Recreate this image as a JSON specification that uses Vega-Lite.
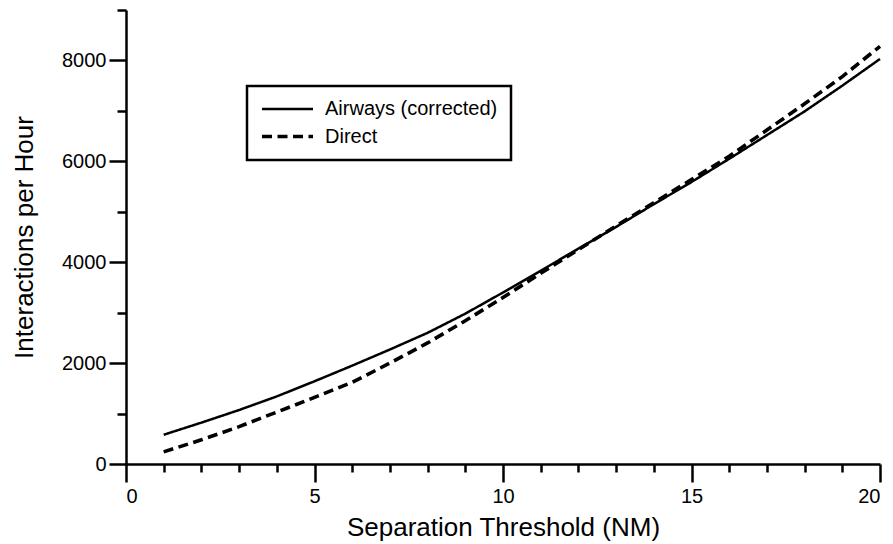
{
  "$schema": "https://vega.github.io/schema/vega-lite/v6.json",
  "width": 754,
  "height": 454,
  "autosize": "none",
  "padding": {"left": 126, "top": 10, "right": 13, "bottom": 80},
  "background": "white",
  "config": {
    "view": {"stroke": null},
    "font": "Liberation Sans",
    "axis": {"grid": false, "domainColor": "black", "tickColor": "black", "labelColor": "black", "titleColor": "black", "domainWidth": 2.5, "tickWidth": 2.5, "labelFont": "Liberation Sans", "titleFont": "Liberation Sans", "labelFontSize": 20, "titleFontSize": 26, "titleFontWeight": "normal"}
  },
  "data": {
    "values": [
      {"x": 1, "y": 580, "s": "Airways (corrected)"},
      {"x": 2, "y": 820, "s": "Airways (corrected)"},
      {"x": 3, "y": 1070, "s": "Airways (corrected)"},
      {"x": 4, "y": 1340, "s": "Airways (corrected)"},
      {"x": 5, "y": 1640, "s": "Airways (corrected)"},
      {"x": 6, "y": 1950, "s": "Airways (corrected)"},
      {"x": 7, "y": 2270, "s": "Airways (corrected)"},
      {"x": 8, "y": 2600, "s": "Airways (corrected)"},
      {"x": 9, "y": 2980, "s": "Airways (corrected)"},
      {"x": 10, "y": 3400, "s": "Airways (corrected)"},
      {"x": 11, "y": 3830, "s": "Airways (corrected)"},
      {"x": 12, "y": 4270, "s": "Airways (corrected)"},
      {"x": 13, "y": 4700, "s": "Airways (corrected)"},
      {"x": 14, "y": 5150, "s": "Airways (corrected)"},
      {"x": 15, "y": 5590, "s": "Airways (corrected)"},
      {"x": 16, "y": 6050, "s": "Airways (corrected)"},
      {"x": 17, "y": 6520, "s": "Airways (corrected)"},
      {"x": 18, "y": 6990, "s": "Airways (corrected)"},
      {"x": 19, "y": 7500, "s": "Airways (corrected)"},
      {"x": 20, "y": 8030, "s": "Airways (corrected)"},
      {"x": 1, "y": 240, "s": "Direct"},
      {"x": 2, "y": 480, "s": "Direct"},
      {"x": 3, "y": 740, "s": "Direct"},
      {"x": 4, "y": 1030, "s": "Direct"},
      {"x": 5, "y": 1320, "s": "Direct"},
      {"x": 6, "y": 1620, "s": "Direct"},
      {"x": 7, "y": 2000, "s": "Direct"},
      {"x": 8, "y": 2400, "s": "Direct"},
      {"x": 9, "y": 2840, "s": "Direct"},
      {"x": 10, "y": 3300, "s": "Direct"},
      {"x": 11, "y": 3780, "s": "Direct"},
      {"x": 12, "y": 4250, "s": "Direct"},
      {"x": 13, "y": 4720, "s": "Direct"},
      {"x": 14, "y": 5180, "s": "Direct"},
      {"x": 15, "y": 5640, "s": "Direct"},
      {"x": 16, "y": 6100, "s": "Direct"},
      {"x": 17, "y": 6620, "s": "Direct"},
      {"x": 18, "y": 7140, "s": "Direct"},
      {"x": 19, "y": 7680, "s": "Direct"},
      {"x": 20, "y": 8280, "s": "Direct"}
    ]
  },
  "mark": {"type": "line", "color": "black", "strokeCap": "butt"},
  "encoding": {
    "x": {"field": "x", "type": "quantitative", "scale": {"domain": [0, 20], "nice": false},
      "axis": {"values": [0,1,2,3,4,5,6,7,8,9,10,11,12,13,14,15,16,17,18,19,20],
        "labelExpr": "datum.value % 5 === 0 ? datum.label : ''",
        "tickSize": {"condition": {"test": "datum.value % 5 === 0", "value": 18}, "value": 8},
        "labelPadding": 4, "title": "Separation Threshold (NM)", "titlePadding": 8}},
    "y": {"field": "y", "type": "quantitative", "scale": {"domain": [0, 9000], "nice": false},
      "axis": {"values": [0,1000,2000,3000,4000,5000,6000,7000,8000,9000],
        "labelExpr": "datum.value % 2000 === 0 ? datum.value + '' : ''",
        "tickSize": {"condition": {"test": "datum.value % 2000 === 0", "value": 17}, "value": 9},
        "labelPadding": 3, "title": "Interactions per Hour", "titlePadding": 24}},
    "strokeDash": {"field": "s", "type": "nominal", "scale": {"domain": ["Airways (corrected)", "Direct"], "range": [[1,0],[10,5.5]]},
      "legend": {"title": null, "orient": "none", "legendX": 121, "legendY": 76, "padding": 13, "strokeColor": "black", "fillColor": "white",
        "symbolType": "M-1,0H5", "symbolSize": 289, "symbolStrokeColor": "black", "symbolStrokeWidth": 3,
        "labelFontSize": 20, "labelFont": "Liberation Sans", "labelColor": "black", "labelOffset": 44, "labelLimit": 0, "rowPadding": 7, "cornerRadius": 0,
        "encode": {"legend": {"update": {"strokeWidth": {"value": 2.5}}},
                   "symbols": {"update": {"strokeWidth": {"signal": "datum.value === 'Direct' ? 4 : 2.5"}}}}}},
    "strokeWidth": {"field": "s", "type": "nominal", "scale": {"domain": ["Airways (corrected)", "Direct"], "range": [2.5, 3.6]}, "legend": null}
  }
}
